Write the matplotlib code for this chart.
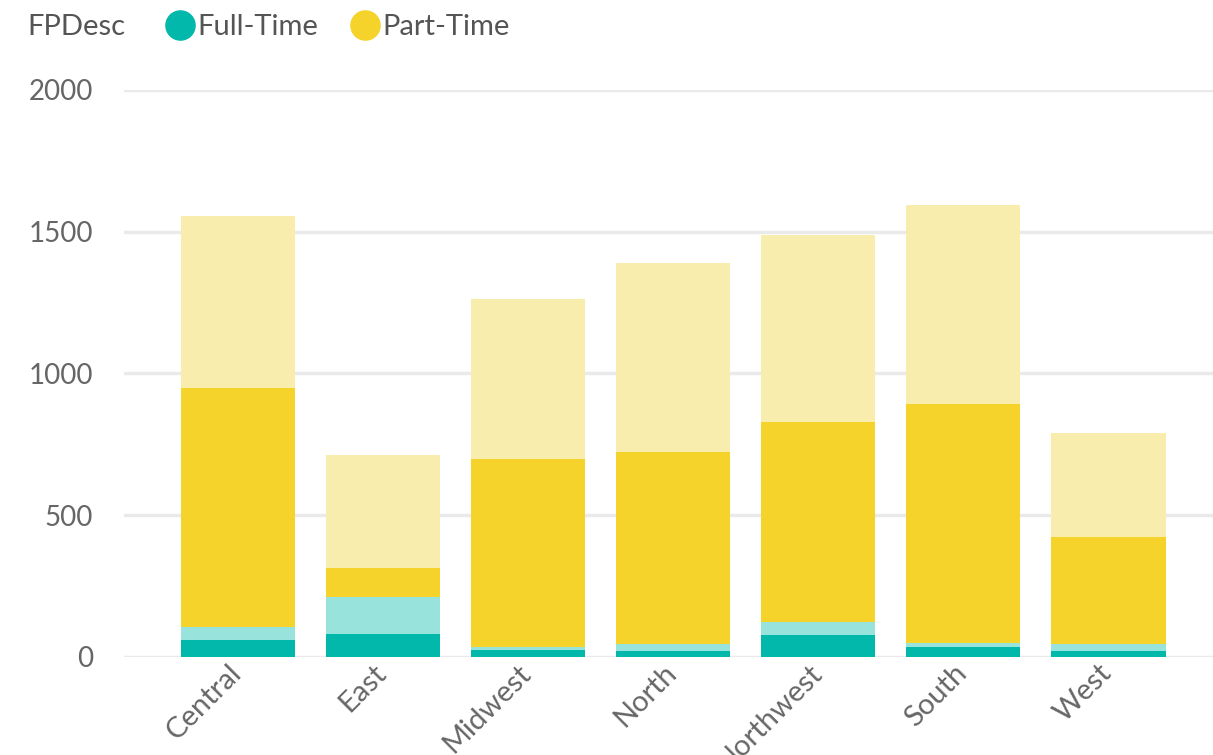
import matplotlib
matplotlib.use("Agg")
import matplotlib.pyplot as plt
from matplotlib.lines import Line2D
from matplotlib.transforms import ScaledTranslation

categories = ["Central", "East", "Midwest", "North", "Northwest", "South", "West"]
fulltime_total = [105, 210, 36, 45, 122, 48, 45]
fulltime_highlight = [60, 80, 25, 22, 78, 33, 22]
parttime_total = [1451, 502, 1227, 1345, 1366, 1546, 745]
parttime_highlight = [845, 104, 662, 678, 707, 844, 378]
y_ticks = [0, 500, 1000, 1500, 2000]

teal = "#01B8AA"
teal_faded = "#99E3DD"
yellow = "#F5D32A"
yellow_faded = "#F9EDAE"
text_col = "#666666"

plt.rcParams["font.family"] = ["Lato", "DejaVu Sans"]

fig = plt.figure(figsize=(12.13, 7.55), dpi=100)
ax = fig.add_axes([0.102, 0.130, 0.898, 0.751])

x = list(range(len(categories)))
w = 0.786
ax.bar(x, fulltime_total, width=w, color=teal_faded, zorder=2)
ax.bar(x, fulltime_highlight, width=w, color=teal, zorder=3)
ax.bar(x, parttime_total, width=w, bottom=fulltime_total, color=yellow_faded, zorder=2)
ax.bar(x, parttime_highlight, width=w, bottom=fulltime_total, color=yellow, zorder=3)

ax.set_ylim(0, 2000)
ax.set_xlim(-0.786, 6.72)
ax.set_yticks(y_ticks)
ax.set_yticklabels([str(v) for v in y_ticks])
ax.yaxis.grid(True, color="#EAEAEA", linewidth=2.5, zorder=0)
ax.set_axisbelow(True)
for s in ax.spines.values():
    s.set_visible(False)
ax.tick_params(axis="y", length=0, pad=22, labelsize=20, labelcolor=text_col)
ax.tick_params(axis="x", length=0, pad=2, labelsize=21, labelcolor=text_col)
ax.set_xticks(x)
ax.set_xticklabels(categories, rotation=45, ha="right", va="top", rotation_mode="anchor")
offset = ScaledTranslation(-0.10, 0.0, fig.dpi_scale_trans)
for lbl in ax.get_xticklabels():
    lbl.set_transform(lbl.get_transform() + offset)

# legend
fig.text(27 / 1213, 1 - 27 / 755, "FPDesc", fontsize=21, color="#555555", va="center", ha="left")
handles = [
    Line2D([0], [0], marker="o", linestyle="none", markersize=21, markerfacecolor=teal, markeredgecolor=teal, label="Full-Time"),
    Line2D([0], [0], marker="o", linestyle="none", markersize=21, markerfacecolor=yellow, markeredgecolor=yellow, label="Part-Time"),
]
leg = fig.legend(handles=handles, loc="center left", bbox_to_anchor=(162 / 1213, 1 - 27 / 755),
                 ncol=2, frameon=False, fontsize=21, handletextpad=0.0, columnspacing=1.0,
                 handlelength=1.2, borderpad=0, borderaxespad=0)
for t in leg.get_texts():
    t.set_color("#555555")

fig.savefig("out.png", dpi=100)
